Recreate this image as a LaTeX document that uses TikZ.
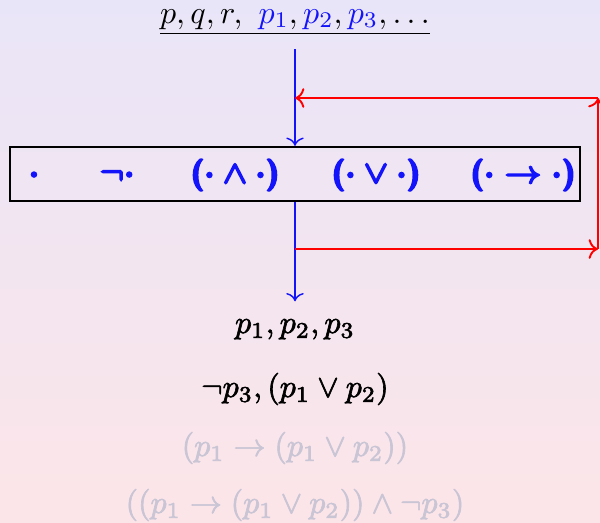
\documentclass[tikz,border=0pt]{standalone}
\usepackage{amsmath,amssymb}
\usepackage{fontspec}
\usepackage{tikz}
\usetikzlibrary{arrows.meta,positioning}
\usepackage{xcolor}
\definecolor{bgtop}{RGB}{233,229,248}
\definecolor{bgbottom}{RGB}{252,229,232}
\definecolor{fadetext}{RGB}{201,197,213}
\definecolor{atomcol}{RGB}{20,20,250}
\definecolor{backcol}{RGB}{255,0,0}
\newcommand{\atom}[1]{\textcolor{atomcol}{#1}}
\newcommand{\lp}{\textsf{\bfseries (}}
\newcommand{\rp}{\textsf{\bfseries )}}
% thicker glyphs (fill + stroke)
\newcommand{\heavy}[2]{\special{pdf:literal direct q 2 Tr #1 w}#2%
  \special{pdf:literal direct Q}}
\tikzset{
  opbox/.style={draw=black,line width=.7pt,minimum width=178.1pt,
                minimum height=16.9pt,inner sep=0pt},
  opitem/.style={text=atomcol,font=\sffamily\bfseries\boldmath,inner sep=0pt},
  formula/.style={inner sep=1pt},
  faded/.style={formula,text=fadetext},
  feed/.style={->,draw=atomcol,line width=.45pt},
  feedback/.style={->,draw=backcol,line width=.6pt},
}

\begin{document}
\begin{tikzpicture}[x=0.3125pt,y=-0.3125pt]
  \useasboundingbox (0,0) rectangle (600,522);
  \fill[top color=bgtop,bottom color=bgbottom] (0,0) rectangle (600,522);
  \node[formula,anchor=base] (src) at (295,23)
    {$\underline{p, q, r,\ \atom{p_1}, \atom{p_2}, \atom{p_3}, \ldots}$};
  \node[opbox] (ops) at (295,174) {};
  \foreach \n/\x/\op in {dot/34/{$\cdot$},neg/117/{$\neg\cdot$},
      con/235/{\lp$\cdot\wedge\cdot$\rp},dis/376/{\lp$\cdot\vee\cdot$\rp},
      imp/523/{\lp$\cdot\to\cdot$\rp}}
    \node[opitem] (\n) at (\x,175) {\heavy{.45}{\op}};
  \node[formula,anchor=base] (row1) at (295,333)
    {\heavy{.2}{$p_1, p_2, p_3$}};
  \node[formula,anchor=base] (row2) at (295,397)
    {\heavy{.2}{$\neg p_3, (p_1 \vee p_2)$}};
  \node[faded,anchor=base] (row3) at (295,456)
    {\heavy{.2}{$(p_1 \to (p_1 \vee p_2))$}};
  \node[faded,anchor=base] (row4) at (295,513)
    {\heavy{.2}{$((p_1 \to (p_1 \vee p_2)) \wedge \neg p_3)$}};
  \draw[feed,shorten <=3pt] (src) -- (ops);
  \draw[feed,shorten >=4.4pt] (ops) -- (row1);
  % generated formulas go back into the box
  \coordinate (loopin)  at (295,249);
  \coordinate (loopbr)  at (598,249);
  \coordinate (looptr)  at (598,98);
  \coordinate (loopout) at (295,98);
  \draw[feedback] (loopin) -- (loopbr);
  \draw[feedback] (loopbr) -- (looptr);
  \draw[feedback] (looptr) -- (loopout);
\end{tikzpicture}
\end{document}
